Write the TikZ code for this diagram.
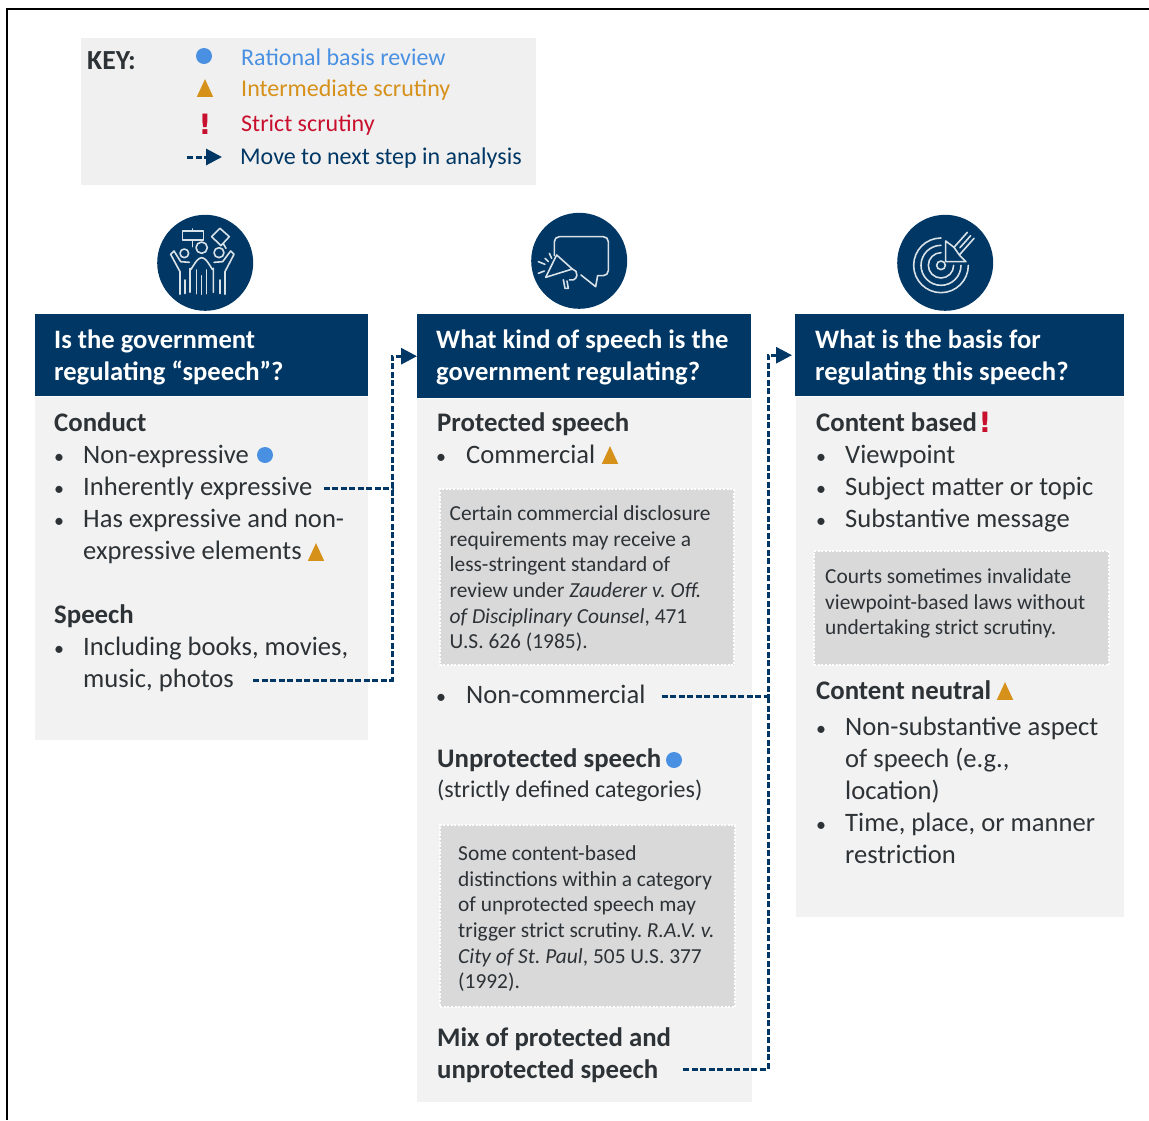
\documentclass[tikz,border=0pt]{standalone}
\usepackage{fontspec}
\setmainfont{Carlito}
\newfontfamily\bangfont{DejaVu Sans}
\usetikzlibrary{arrows.meta,positioning,shapes.geometric}

\definecolor{navy}{HTML}{003764}
\definecolor{panel}{HTML}{F2F2F2}
\definecolor{notefill}{HTML}{D9D9D9}
\definecolor{inktext}{HTML}{2D3236}
\definecolor{rbblue}{HTML}{4A90E2}
\definecolor{isorange}{HTML}{D6911A}
\definecolor{ssred}{HTML}{C8102E}

\tikzset{
  head node/.style={rectangle,fill=navy,text=white,anchor=north west,inner xsep=19pt,inner ysep=0pt,
                    align=flush left,font=\fontsize{26.6}{32}\selectfont\bfseries},
  body node/.style={rectangle,fill=panel,inner sep=0pt},
  icon node/.style={circle,fill=navy,minimum size=96pt,inner sep=0pt},
  text node/.style={anchor=base west,inner sep=0pt,text=inktext,font=\fontsize{26.6}{32}\selectfont},
  bold node/.style={text node,font=\fontsize{26.8}{32}\selectfont\bfseries},
  bullet node/.style={anchor=base,inner sep=0pt,text=inktext,font=\fontsize{20}{32}\selectfont},
  key node/.style={anchor=base west,inner sep=0pt,font=\fontsize{24}{30}\selectfont},
  note node/.style={rectangle,fill=notefill,draw=white,dash pattern=on 2pt off 1.6pt,line width=2.4pt,anchor=north west,
                    inner xsep=10pt,inner ysep=0pt,align=flush left,text=inktext,
                    font=\fontsize{21.4}{25.6}\selectfont},
  dot node/.style={circle,fill=rbblue,minimum size=16pt,inner sep=0pt},
  tri node/.style={regular polygon,regular polygon sides=3,fill=isorange,minimum size=19pt,inner sep=0pt,
                   transform shape,yscale=1.25},
  bang node/.style={inner sep=0pt,text=ssred,font=\fontsize{28}{28}\selectfont\bangfont\bfseries},
  flow/.style={draw=navy,line width=3pt,dash pattern=on 6pt off 2.5pt,-{Triangle[length=16pt,width=16pt]}},
  link/.style={draw=navy,line width=3pt,dash pattern=on 6pt off 2.5pt},
  glyph/.style={draw=white!85!navy,line width=1.6pt,line join=round,line cap=round}
}

\begin{document}
\frenchspacing
\begin{tikzpicture}[x=1pt,y=-1pt,node distance=0pt]
  \useasboundingbox (0,0) rectangle (1149,1120);

  % outer frame
  \draw[line width=2.6pt,black] (7,1120) -- (7,9) -- (1149,9);

  % key
  \node[body node,fill=black!6,anchor=north west,minimum width=455pt,minimum height=147pt] (keybox) at (81,38) {};
  \node[bold node,font=\fontsize{27.6}{30}\selectfont\bfseries] (keytitle) at (87,69) {KEY:};
  \node[dot node] (keydot) at (204,56) {};
  \node[tri node] (keytri) at (205,91) {};
  \node[bang node] (keybang) at (205,124) {!};
  \coordinate (keyfrom) at (187,157);
  \coordinate (keyto) at (222,157);
  \draw[flow] (keyfrom) -- (keyto);
  \node[key node,text=rbblue] (keyrat) at (241,65) {Rational basis review};
  \node[key node,text=isorange] (keyint) at (241,96) {Intermediate scrutiny};
  \node[key node,text=ssred] (keystr) at (241,131) {Strict scrutiny};
  \node[key node,text=navy] (keymov) at (240,164) {Move to next step in analysis};

  % column heads and panels
  \node[head node,minimum width=333pt,minimum height=82pt,text width=295pt] (head1) at (35,314)
    {\rule{0pt}{24pt}Is the government\\regulating “speech”?};
  \node[head node,minimum width=334pt,minimum height=84pt,text width=296pt] (head2) at (417,314)
    {\rule{0pt}{22pt}What kind of speech is the\\government regulating?};
  \node[head node,minimum width=329pt,minimum height=82pt,text width=289pt,inner xsep=20pt] (head3) at (795,314)
    {\rule{0pt}{24pt}What is the basis for\\regulating this speech?};
  \node[body node,minimum width=333pt,minimum height=343pt,below=of head1] (body1) {};
  \node[body node,minimum width=335pt,minimum height=703pt,below=of head2] (body2) {};
  \node[body node,minimum width=328pt,minimum height=520pt,below=of head3] (body3) {};

  % icons
  \node[icon node,above=3pt of head1,xshift=3.5pt] (icon1) {};
  \node[icon node,above=5pt of head2,xshift=-5pt] (icon2) {};
  \node[icon node,above=3pt of head3,xshift=-14.5pt] (icon3) {};

  \begin{scope}[shift={(140,205)},x=0.3333pt,y=-0.3333pt]
    \draw[glyph] (127,78) rectangle (190,105) (157,72) -- (157,78) (157,105) -- (157,125);
    \draw[glyph] (215,95) -- (240,70) -- (268,95) -- (243,122) -- cycle (250,116) -- (258,130);
    \draw[glyph] (185,128) circle (17) (133,145) circle (13) (237,143) circle (15);
    \draw[glyph] (150,262) -- (150,190) to[out=-90,in=180] (185,158) to[out=0,in=-90] (220,190) -- (220,262);
    \draw[glyph] (170,195) -- (170,266) (185,212) -- (185,268) (200,195) -- (200,266);
    \draw[glyph] (148,172) -- (122,170) -- (102,138) -- (92,148) -- (120,200) -- (120,268) (135,225) -- (135,266);
    \draw[glyph] (222,172) -- (248,170) -- (272,138) -- (282,148) -- (255,200) -- (255,268) (240,225) -- (240,266);
  \end{scope}

  \begin{scope}[shift={(515,205)},x=0.3333pt,y=-0.3333pt]
    \draw[glyph,rounded corners=5pt] (118,152) -- (118,95) -- (280,95) -- (280,212) -- (248,212);
    \draw[glyph] (248,212) -- (242,245) -- (198,210);
    \draw[glyph] (125,150) -- (92,217) -- (172,192) -- cycle;
    \draw[glyph] (172,192) arc[start angle=-80,end angle=110,radius=17];
    \draw[glyph] (145,224) -- (150,250) -- (160,250) -- (156,228);
    \draw[glyph] (70,170) -- (90,178) (90,160) -- (100,170) (103,145) -- (110,160) (70,205) -- (88,198);
  \end{scope}

  \begin{scope}[shift={(880,205)},x=0.3333pt,y=-0.3333pt]
    \draw[glyph] (183,181) circle (13);
    \draw[glyph] (183,143) arc[start angle=-90,end angle=-360,radius=38];
    \draw[glyph] (183,121) arc[start angle=-90,end angle=-360,radius=60];
    \draw[glyph] (183,99) arc[start angle=-90,end angle=-360,radius=82];
    \draw[glyph] (197,108) -- (197,170) -- (258,170) -- (238,150) -- (282,100) (222,127) -- (262,82) (238,150) -- (222,127) (197,108) -- (222,127);
    \draw[glyph] (240,128) -- (272,92);
  \end{scope}

  % first column
  \node[bold node] (conduct) at (54,431) {Conduct};
  \node[text node] (nonexp) at (83,463) {Non-expressive};
  \node[text node] (inherent) at (83,495) {Inherently expressive};
  \node[text node] (mixed) at (83,527) {Has expressive and non-};
  \node[text node] (mixedb) at (83,559) {expressive elements};
  \node[bold node] (speech) at (54,623) {Speech};
  \node[text node] (books) at (83,655) {Including books, movies,};
  \node[text node] (music) at (83,687) {music, photos};
  \foreach \y in {463,495,527,655}
    \node[bullet node] (bulleta\y) at (59,\y) {\textbullet};
  \node[dot node] (dot1) at (265,455) {};
  \node[tri node] (tri1) at (316,555) {};

  % second column
  \node[bold node] (protected) at (437,431) {Protected speech};
  \node[text node] (commercial) at (466,463) {Commercial};
  \node[tri node] (tri2) at (610,458) {};
  \node[note node,minimum width=294pt,minimum height=176pt,text width=274pt] (note1) at (438.5,488)
    {\rule{0pt}{18pt}Certain commercial disclosure\\requirements may receive a\\less-stringent standard of\\review under \textit{Zauderer v. Off.}\\\textit{of Disciplinary Counsel}, 471\\U.S. 626 (1985).};
  \node[text node] (noncomm) at (466,703) {Non-commercial};
  \node[bold node] (unprotected) at (437,767) {Unprotected speech};
  \node[dot node] (dot2) at (674,760) {};
  \node[text node,font=\fontsize{24}{30}\selectfont] (strictly) at (437,797) {(strictly defined categories)};
  \node[note node,minimum width=295pt,minimum height=182pt,text width=259pt,inner xsep=18pt] (note2) at (439,824)
    {\rule{0pt}{20pt}Some content-based\\distinctions within a category\\of unprotected speech may\\trigger strict scrutiny. \textit{R.A.V. v.}\\\textit{City of St. Paul}, 505 U.S. 377\\(1992).};
  \node[bold node] (mixa) at (437,1046) {Mix of protected and};
  \node[bold node] (mixc) at (437,1078) {unprotected speech};
  \foreach \y in {463,703}
    \node[bullet node] (bulletb\y) at (441,\y) {\textbullet};

  % third column
  \node[bold node] (cbased) at (816,431) {Content based};
  \node[bang node] (bang1) at (985,422) {!};
  \node[text node] (viewpoint) at (845,463) {Viewpoint};
  \node[text node] (subject) at (845,495) {Subject matter or topic};
  \node[text node] (message) at (845,527) {Substantive message};
  \node[note node,minimum width=295pt,minimum height=114pt,text width=273pt,inner xsep=11pt] (note3) at (813,550)
    {Courts sometimes invalidate\\viewpoint-based laws without\\undertaking strict scrutiny.\rule[-13pt]{0pt}{13pt}};
  \node[bold node] (cneutral) at (816,699) {Content neutral};
  \node[tri node] (tri3) at (1005,694) {};
  \node[text node] (aspect) at (845,735) {Non-substantive aspect};
  \node[text node] (aspectb) at (845,767) {of speech (e.g.,};
  \node[text node] (aspectc) at (845,799) {location)};
  \node[text node] (time) at (845,831) {Time, place, or manner};
  \node[text node] (timeb) at (845,863) {restriction};
  \foreach \y in {463,495,527,735,831}
    \node[bullet node] (bulletc\y) at (821,\y) {\textbullet};

  % connectors
  \coordinate (joina) at (392,488);
  \coordinate (joinb) at (392,680);
  \coordinate (joinc) at (768,696);
  \coordinate (joind) at (768,1069);
  \draw[flow] ([xshift=11pt]inherent.east |- joina) -- (joina) -- (joina |- head2.west) -- (head2.west);
  \draw[link] ([xshift=19pt]music.east |- joinb) -- (joinb) -- (joina);
  \draw[flow] ([xshift=16pt]noncomm.east |- joinc) -- (joinc) -- (joinc |- head3.west) -- ([xshift=-3pt]head3.west);
  \draw[link] ([xshift=25pt]mixc.east |- joind) -- (joind) -- (joinc);
\end{tikzpicture}
\end{document}
